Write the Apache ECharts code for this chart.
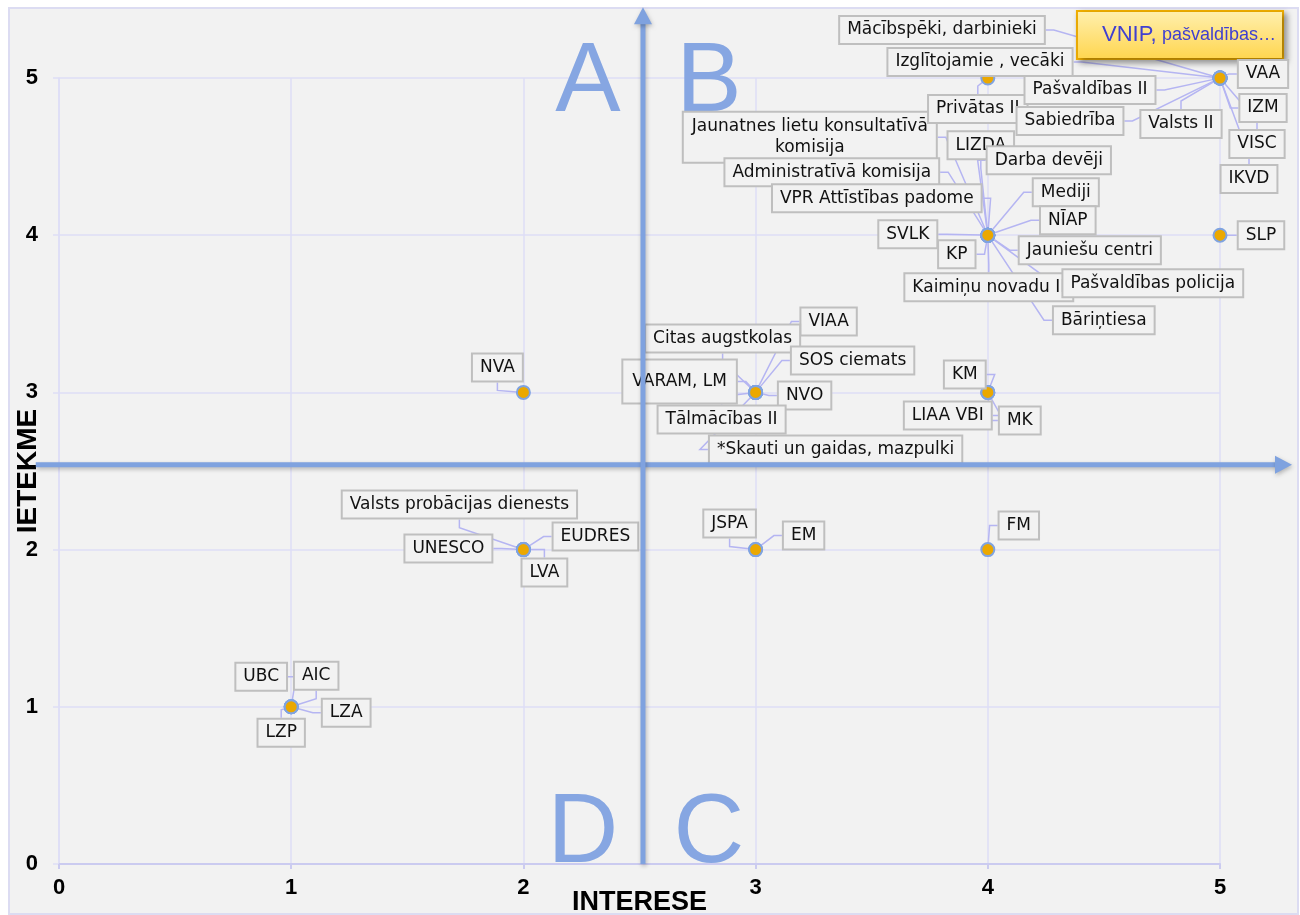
<!DOCTYPE html>
<html>
<head>
<meta charset="utf-8">
<title>Ietekme / Interese</title>
<script src="https://cdn.jsdelivr.net/npm/echarts@6/dist/echarts.min.js"></script>
<style>
    html, body { margin: 0; padding: 0; background: #ffffff; }
    #chart { width: 1300px; height: 915px; }
</style>
</head>
<body>
<div id="chart"></div>
<script>
// ---- data ----
var names = [
    'Jaunatnes lietu konsultatīvā\nkomisija', 'Privātas II',
    'Mācībspēki, darbinieki', 'VNIP, pašvaldības…', 'Izglītojamie , vecāki', 'VAA',
    'Pašvaldības II', 'Sabiedrība', 'Valsts II', 'IZM', 'VISC', 'IKVD',
    'LIZDA', 'Darba devēji', 'Administratīvā komisija', 'VPR Attīstības padome',
    'Mediji', 'NĪAP', 'SVLK', 'KP', 'Jauniešu centri', 'Kaimiņu novadu II',
    'Pašvaldības policija', 'Bāriņtiesa',
    'SLP', 'NVA',
    'VIAA', 'Citas augstkolas', 'SOS ciemats', 'VARAM, LM', 'NVO', 'Tālmācības II',
    '*Skauti un gaidas, mazpulki',
    'KM', 'LIAA VBI', 'MK',
    'Valsts probācijas dienests', 'EUDRES', 'UNESCO', 'LVA',
    'JSPA', 'EM', 'FM',
    'UBC', 'AIC', 'LZA', 'LZP'
];
var interest = [
    4, 4,
    5, 5, 5, 5, 5, 5, 5, 5, 5, 5,
    4, 4, 4, 4, 4, 4, 4, 4, 4, 4, 4, 4,
    5, 2,
    3, 3, 3, 3, 3, 3, 3,
    4, 4, 4,
    2, 2, 2, 2,
    3, 3, 4,
    1, 1, 1, 1
];
var influence = [
    4, 5,
    5, 5, 5, 5, 5, 5, 5, 5, 5, 5,
    4, 4, 4, 4, 4, 4, 4, 4, 4, 4, 4, 4,
    4, 3,
    3, 3, 3, 3, 3, 3, 3,
    3, 3, 3,
    2, 2, 2, 2,
    2, 2, 2,
    1, 1, 1, 1
];
var axisTicks = [0, 1, 2, 3, 4, 5];
var xName = 'INTERESE';
var yName = 'IETEKME';
var quadrantLetters = ['A', 'B', 'C', 'D'];

// ---- label placement (pixel offset of each label box centre from its point) ----
var labelDx = [
    -178, -10,
    -278, -40, -240, 43, -130, -150, -39, 43, 37, 29,
    -7, 61, -156, -111, 78, 80, -80, -31, 102, 1, 165, 116,
    41, -26,
    73, -33, 97, -76, 49, -34, 80,
    -23, -40, 32,
    -64, 72, -75, 21,
    -26, 48, 31,
    -30, 25, 55, -10
];
var labelDy = [
    -98, 31,
    -48, -43, -16, -4, 12, 43, 46, 30, 66, 101,
    -90, -75, -63, -37, -43, -15, -1, 19, 15, 52, 48, 85,
    0, -25,
    -71, -54, -32, -11, 3, 27, 57,
    -18, 23, 28,
    -45, -13, -1, 23,
    -26, -14, -24,
    -30, -31, 6, 26
];

var chart = echarts.init(document.getElementById('chart'));

var labelFont = '"DejaVu Sans", sans-serif';
var axisFont = '"Liberation Sans", Arial, sans-serif';

var data = [];
for (var i = 0; i < names.length; i++) {
    var item = { name: names[i], value: [interest[i], influence[i]] };
    if (names[i].indexOf('VNIP') === 0) {
        item.label = {
            formatter: '{a|VNIP,} {b|pašvaldības…}',
            backgroundColor: {
                type: 'linear', x: 0, y: 0, x2: 0, y2: 1,
                colorStops: [{ offset: 0, color: '#fff0b0' }, { offset: 1, color: '#ffd54d' }]
            },
            borderColor: '#f0ae00',
            borderWidth: 2,
            padding: [12, 6, 12, 24],
            shadowColor: 'rgba(0,0,0,0.35)',
            shadowBlur: 6,
            shadowOffsetX: 3,
            shadowOffsetY: 3,
            rich: {
                a: { fontSize: 22, color: '#4040d0', fontFamily: axisFont },
                b: { fontSize: 18, color: '#4040d0', fontFamily: axisFont }
            }
        };
        item.labelLine = { show: false };
    } else if (names[i] === 'VARAM, LM') {
        item.label = { padding: [13, 9, 12, 9] };
    } else if (names[i].indexOf('Jaunatnes') === 0) {
        item.label = { padding: [4, 8, 3, 8], lineHeight: 21, align: 'center' };
    }
    data.push(item);
}

var option = {
    backgroundColor: '#ffffff',
    animation: false,
    graphic: [{
        id: 'frame',
        type: 'rect',
        left: 8,
        top: 7,
        z: -10,
        shape: { width: 1289, height: 906 },
        style: { fill: '#f2f2f2', stroke: '#dcdcf2', lineWidth: 2 }
    }],
    grid: { left: 59, right: 80, top: 78, bottom: 51, containLabel: false, outerBoundsMode: 'none' },
    xAxis: {
        type: 'value',
        min: axisTicks[0],
        max: axisTicks[axisTicks.length - 1],
        interval: 1,
        name: xName,
        nameLocation: 'middle',
        nameGap: 25,
        nameMoveOverlap: false,
        nameTextStyle: { fontFamily: axisFont, fontWeight: 'bold', fontSize: 27, color: '#000' },
        axisLine: { show: true, lineStyle: { color: '#cbcbf0', width: 2 } },
        axisTick: { show: true, length: 5, lineStyle: { color: '#cbcbf0', width: 2 } },
        axisLabel: { margin: 13, fontFamily: axisFont, fontWeight: 'bold', fontSize: 22, color: '#000' },
        splitLine: { show: true, lineStyle: { color: '#dedef6', width: 1.5 } }
    },
    yAxis: {
        type: 'value',
        min: axisTicks[0],
        max: axisTicks[axisTicks.length - 1],
        interval: 1,
        name: yName,
        nameLocation: 'middle',
        nameGap: 17,
        nameMoveOverlap: false,
        nameTextStyle: { fontFamily: axisFont, fontWeight: 'bold', fontSize: 28, color: '#000' },
        axisLine: { show: true, lineStyle: { color: '#dedef6', width: 1.5 } },
        axisTick: { show: true, length: 6, lineStyle: { color: '#dedef6', width: 1.5 } },
        axisLabel: { margin: 21, fontFamily: axisFont, fontWeight: 'bold', fontSize: 22, color: '#000' },
        splitLine: { show: true, lineStyle: { color: '#dedef6', width: 1.5 } }
    },
    series: [{
        type: 'scatter',
        data: data,
        symbol: 'circle',
        symbolSize: 13,
        z: 3,
        itemStyle: { color: '#eba800', borderColor: '#7fa3e0', borderWidth: 2, opacity: 1 },
        label: {
            show: true,
            position: 'inside',
            formatter: '{b}',
            fontFamily: labelFont,
            fontSize: 17,
            color: '#111',
            backgroundColor: '#f2f2f2',
            borderColor: '#bfbfbf',
            borderWidth: 2,
            padding: [5, 7, 4, 7]
        },
        labelLine: {
            show: true,
            length2: 8,
            lineStyle: { color: '#b5b5f2', width: 1.5 }
        },
        labelLayout: function (params) {
            var r = params.rect;
            return {
                x: r.x + r.width / 2 + labelDx[params.dataIndex],
                y: r.y + r.height / 2 + labelDy[params.dataIndex],
                align: 'center',
                verticalAlign: 'middle'
            };
        },
        emphasis: { disabled: true }
    }]
};

chart.setOption(option);

// quadrant arrows and letters, placed through the axes
var quadX = 2.515;
var quadY = 2.54;
function drawQuadrants() {
    var cross = chart.convertToPixel({ gridIndex: 0 }, [quadX, quadY]);
    var hStart = chart.convertToPixel({ gridIndex: 0 }, [-0.1, quadY]);
    var hEnd = chart.convertToPixel({ gridIndex: 0 }, [5.31, quadY]);
    var vStart = chart.convertToPixel({ gridIndex: 0 }, [quadX, 0]);
    var vEnd = chart.convertToPixel({ gridIndex: 0 }, [quadX, 5.45]);
    var aStyle = {
        stroke: '#7fa2df', lineWidth: 5,
        shadowColor: 'rgba(0,0,0,0.25)', shadowBlur: 4, shadowOffsetX: 1, shadowOffsetY: 2
    };
    var hStyle = {
        fill: '#7fa2df',
        shadowColor: 'rgba(0,0,0,0.25)', shadowBlur: 4, shadowOffsetX: 1, shadowOffsetY: 2
    };
    var letter = function (id, t, x, y) {
        return {
            id: id, type: 'text', z: 1, silent: true,
            style: {
                text: t, x: x, y: y,
                font: '98px "Liberation Sans", Arial, sans-serif',
                fill: '#86a6e2', align: 'center', verticalAlign: 'middle',
                shadowColor: 'rgba(0,0,0,0.2)', shadowBlur: 4, shadowOffsetX: 2, shadowOffsetY: 2
            }
        };
    };
    var topY = chart.convertToPixel({ gridIndex: 0 }, [0, 5])[1] + 6;
    var botY = chart.convertToPixel({ gridIndex: 0 }, [0, 0.22])[1] + 6;
    var g = [
        { id: 'hLine', type: 'line', z: 50, silent: true,
          shape: { x1: hStart[0], y1: hStart[1], x2: hEnd[0] - 14, y2: hEnd[1] }, style: aStyle },
        { id: 'hHead', type: 'polygon', z: 50, silent: true,
          shape: { points: [[hEnd[0], hEnd[1]], [hEnd[0] - 17, hEnd[1] - 9], [hEnd[0] - 17, hEnd[1] + 9]] }, style: hStyle },
        { id: 'vLine', type: 'line', z: 50, silent: true,
          shape: { x1: vStart[0], y1: vStart[1], x2: vEnd[0], y2: vEnd[1] + 14 }, style: aStyle },
        { id: 'vHead', type: 'polygon', z: 50, silent: true,
          shape: { points: [[vEnd[0], vEnd[1]], [vEnd[0] - 9, vEnd[1] + 17], [vEnd[0] + 9, vEnd[1] + 17]] }, style: hStyle },
        letter('lA', quadrantLetters[0], cross[0] - 55, topY),
        letter('lB', quadrantLetters[1], cross[0] + 66, topY),
        letter('lC', quadrantLetters[2], cross[0] + 66, botY),
        letter('lD', quadrantLetters[3], cross[0] - 60, botY)
    ];
    chart.setOption({ graphic: g });
}
drawQuadrants();
</script>
</body>
</html>
